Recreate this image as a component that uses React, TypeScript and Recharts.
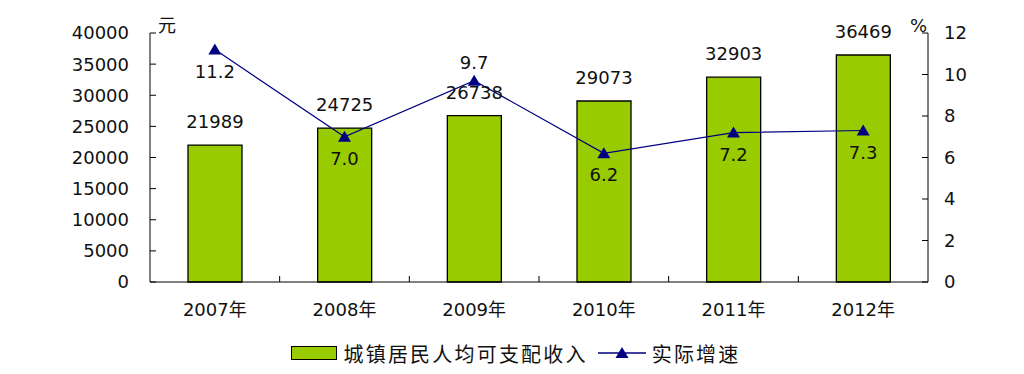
import React from 'react';
import { ComposedChart, Bar, Line, XAxis, YAxis, Legend, LabelList } from 'recharts';

const years = ['2007年', '2008年', '2009年', '2010年', '2011年', '2012年'];
const income = [21989, 24725, 26738, 29073, 32903, 36469];
const growth = [11.2, 7.0, 9.7, 6.2, 7.2, 7.3];
const incomeTicks = [0, 5000, 10000, 15000, 20000, 25000, 30000, 35000, 40000];
const growthTicks = [0, 2, 4, 6, 8, 10, 12];

const data = years.map((y, i) => ({ year: y, income: income[i], growth: growth[i] }));

const W = 1008;
const H = 366;
const PLOT_W = 778;
const BAND = PLOT_W / years.length;
const FONT = '"DejaVu Sans", "Noto Sans CJK SC", sans-serif';
const CJK = '"Noto Sans CJK SC", "DejaVu Sans", sans-serif';
const NAVY = '#000080';
const GREEN = '#99CC00';

const LeftTick = (p: any) => (
  <g>
    <line x1={p.x} x2={p.x + 6} y1={p.y} y2={p.y} stroke="#000" />
    <text x={p.x - 21} y={p.y} dy="0.36em" textAnchor="end" fontSize={18} fontFamily={FONT} fill="#111">
      {p.payload.value}
    </text>
  </g>
);

const RightTick = (p: any) => (
  <g>
    <line x1={p.x - 6} x2={p.x} y1={p.y} y2={p.y} stroke="#000" />
    <text x={p.x + 16} y={p.y} dy="0.36em" textAnchor="start" fontSize={18} fontFamily={FONT} fill="#111">
      {p.payload.value}
    </text>
  </g>
);

const XTick = (p: any) => (
  <g>
    {p.index > 0 && (
      <line x1={p.x - BAND / 2} x2={p.x - BAND / 2} y1={p.y - 6} y2={p.y} stroke="#000" />
    )}
    <text x={p.x} y={p.y + 20} dy="0.75em" textAnchor="middle" fontSize={18} fontFamily={FONT} fill="#111">
      {p.payload.value}
    </text>
  </g>
);

const Triangle = (p: any) => {
  const { cx, cy } = p;
  if (cx == null || cy == null) return null;
  return <polygon points={`${cx},${cy - 6} ${cx - 6.5},${cy + 5} ${cx + 6.5},${cy + 5}`} fill={NAVY} />;
};

const BarValue = (p: any) => (
  <text x={p.x + p.width / 2} y={p.y - 17} textAnchor="middle" fontSize={18} fontFamily={FONT} fill="#111">
    {p.value}
  </text>
);

const GrowthValue = (p: any) => {
  const above = p.index === 2;
  return (
    <text x={p.x} y={above ? p.y - 12 : p.y + 28} textAnchor="middle" fontSize={18} fontFamily={FONT} fill="#111">
      {Number(p.value).toFixed(1)}
    </text>
  );
};

const LegendContent = () => (
  <div style={{ display: 'flex', justifyContent: 'center', alignItems: 'center', height: 26, paddingRight: 26, fontFamily: CJK, fontSize: 20, letterSpacing: 2.2, color: '#111' }}>
    <svg width={46} height={14} style={{ marginRight: 6 }}>
      <rect x={0.5} y={0.5} width={45} height={13} fill={GREEN} stroke="#000" />
    </svg>
    <span>城镇居民人均可支配收入</span>
    <svg width={48} height={14} style={{ marginLeft: 10, marginRight: 6 }}>
      <line x1={0} x2={48} y1={7} y2={7} stroke={NAVY} strokeWidth={1.5} />
      <polygon points="24,1 17.5,12 30.5,12" fill={NAVY} />
    </svg>
    <span>实际增速</span>
  </div>
);

export default function App() {
  return (
    <div style={{ width: W, height: H, background: '#fff' }}>
      <ComposedChart width={W} height={H} data={data} margin={{ top: 25, right: 28, bottom: 8, left: 62 }}>
        <XAxis
          dataKey="year"
          height={58}
          stroke="#000"
          tickLine={false}
          tickSize={0}
          tickMargin={0}
          tick={<XTick />}
          interval={0}
        />
        <YAxis
          yAxisId="left"
          width={80}
          domain={[0, 40000]}
          ticks={incomeTicks}
          stroke="#000"
          tickLine={false}
          tickSize={0}
          tickMargin={0}
          tick={<LeftTick />}
          interval={0}
          label={({ viewBox }: any) => (
            <text x={viewBox.x + viewBox.width + 8} y={viewBox.y - 1} fontSize={18} fontFamily={CJK} fill="#111">元</text>
          )}
        />
        <YAxis
          yAxisId="right"
          orientation="right"
          width={60}
          domain={[0, 12]}
          ticks={growthTicks}
          stroke="#000"
          tickLine={false}
          tickSize={0}
          tickMargin={0}
          tick={<RightTick />}
          interval={0}
          label={({ viewBox }: any) => (
            <text x={viewBox.x - 1} y={viewBox.y - 1} textAnchor="end" fontSize={18} fontFamily={FONT} fill="#111">%</text>
          )}
        />
        <Legend verticalAlign="bottom" height={26} content={<LegendContent />} />
        <Bar yAxisId="left" dataKey="income" name="城镇居民人均可支配收入" fill={GREEN} stroke="#000" strokeWidth={1.3} barSize={54} isAnimationActive={false}>
          <LabelList dataKey="income" content={<BarValue />} />
        </Bar>
        <Line yAxisId="right" dataKey="growth" name="实际增速" type="linear" stroke={NAVY} strokeWidth={1.2} dot={<Triangle />} activeDot={false} isAnimationActive={false}>
          <LabelList dataKey="growth" content={<GrowthValue />} />
        </Line>
      </ComposedChart>
    </div>
  );
}
